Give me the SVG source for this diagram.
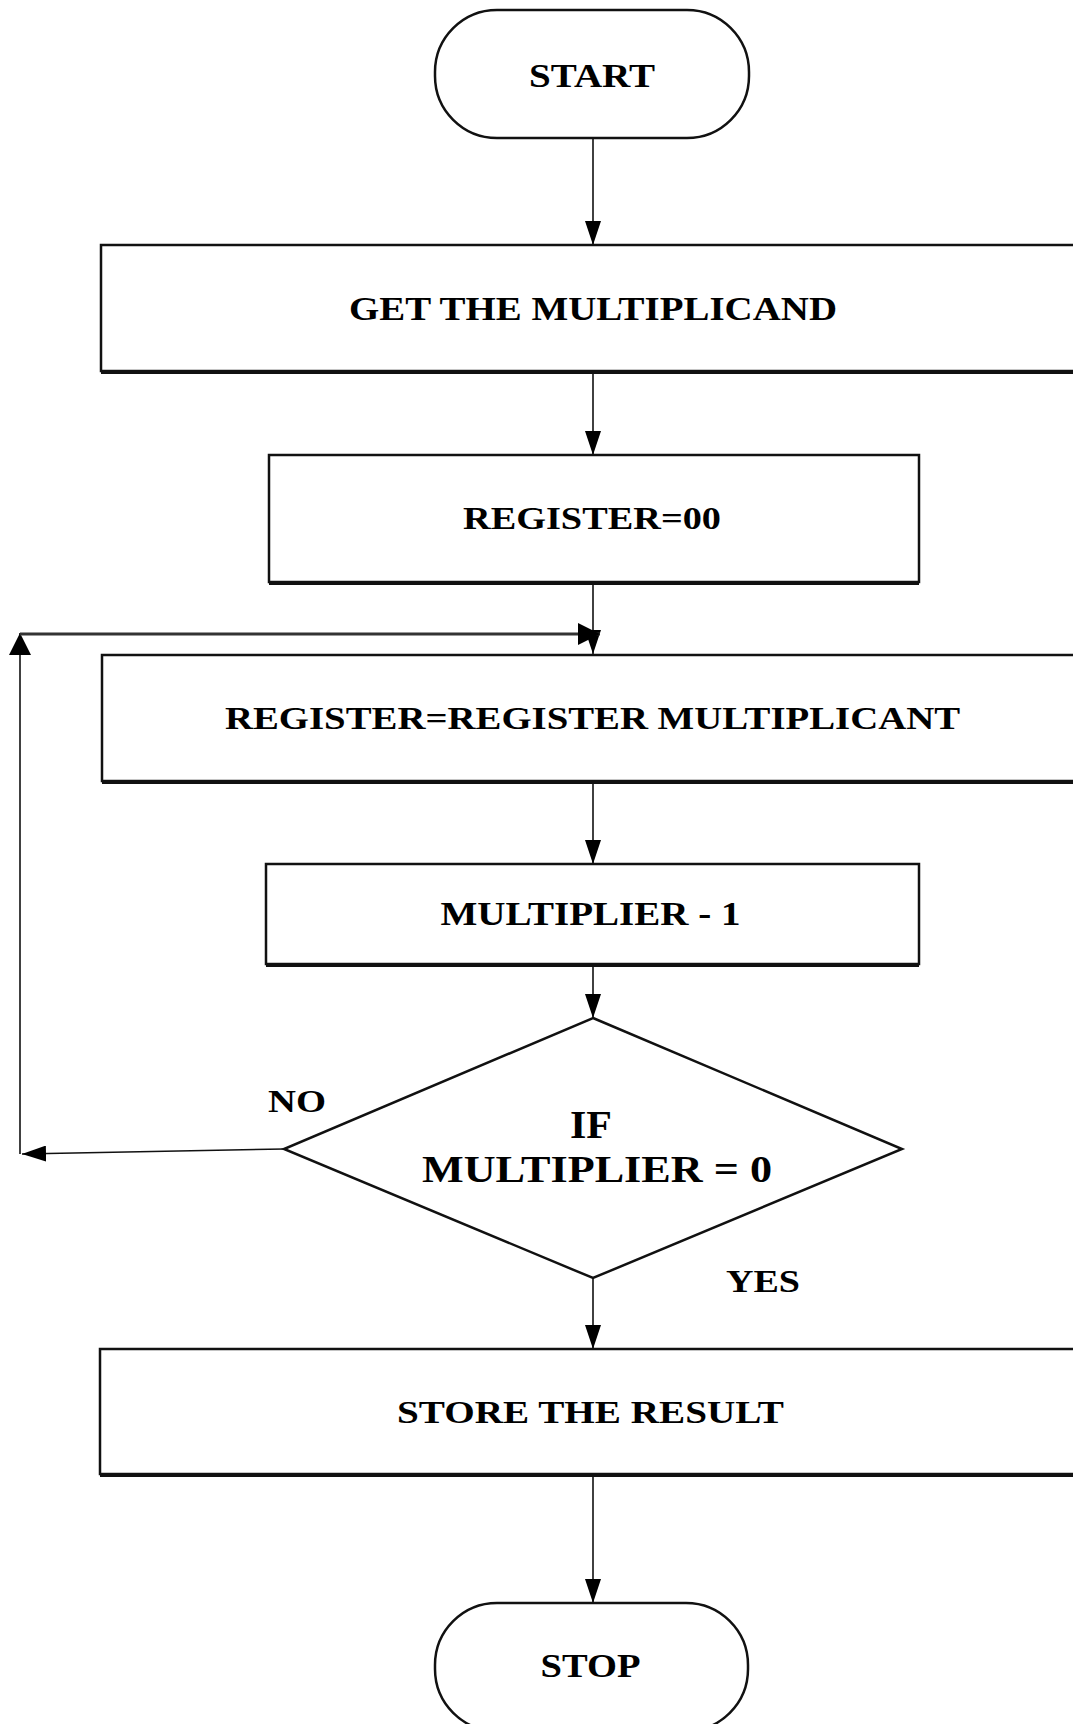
<svg xmlns="http://www.w3.org/2000/svg" width="1073" height="1724" viewBox="0 0 1073 1724">
  <defs>
    <marker id="arr" viewBox="0 0 24 16" refX="24" refY="8" markerWidth="24" markerHeight="16" markerUnits="userSpaceOnUse" orient="auto">
      <path d="M0,0 L24,8 L0,16 z" fill="#000"/>
    </marker>
    <marker id="arrL" viewBox="0 0 22 22" refX="22" refY="11" markerWidth="22" markerHeight="22" markerUnits="userSpaceOnUse" orient="auto">
      <path d="M0,0 L22,11 L0,22 z" fill="#000"/>
    </marker>
  </defs>
  <style>
    .shape { fill: #fff; stroke: #111; stroke-width: 2.5; }
    .shadow { stroke: #111; stroke-width: 4; fill: none; }
    .t { font-family: "Liberation Serif", "Times New Roman", serif; font-weight: bold; fill: #000; text-anchor: middle; }
    .c { stroke: #111; stroke-width: 1.6; fill: none; }
    .loop { stroke: #333; stroke-width: 3; fill: none; }
  </style>
  <rect width="1073" height="1724" fill="#fff"/>

  <g id="connectors">
    <line class="c" x1="593" y1="138" x2="593" y2="245" marker-end="url(#arr)"/>
    <line class="c" x1="593" y1="374" x2="593" y2="455" marker-end="url(#arr)"/>
    <line class="c" x1="593" y1="585" x2="593" y2="654" marker-end="url(#arr)"/>
    <line class="c" x1="593" y1="784" x2="593" y2="864" marker-end="url(#arr)"/>
    <line class="c" x1="593" y1="967" x2="593" y2="1018" marker-end="url(#arr)"/>
    <line class="c" x1="593" y1="1278" x2="593" y2="1349" marker-end="url(#arr)"/>
    <line class="c" x1="593" y1="1477" x2="593" y2="1603" marker-end="url(#arr)"/>
    <line class="c" x1="284" y1="1149" x2="22" y2="1154" marker-end="url(#arr)" stroke-width="2.2"/>
    <line class="c" x1="20" y1="1154" x2="20" y2="633" marker-end="url(#arrL)" stroke-width="2.5"/>
    <line class="loop" x1="20" y1="634" x2="600" y2="634" marker-end="url(#arrL)"/>
  </g>

  <g id="start">
    <rect class="shape" x="435" y="10" width="314" height="128" rx="62" ry="62"/>
    <text class="t" x="592" y="87" font-size="34" textLength="126" lengthAdjust="spacingAndGlyphs">START</text>
  </g>

  <g id="get-multiplicand">
    <rect class="shape" x="101" y="245" width="1000" height="126"/>
    <line class="shadow" x1="101" y1="372" x2="1101" y2="372"/>
    <text class="t" x="593" y="320" font-size="33" textLength="488" lengthAdjust="spacingAndGlyphs">GET THE MULTIPLICAND</text>
  </g>

  <g id="register-zero">
    <rect class="shape" x="269" y="455" width="650" height="127"/>
    <line class="shadow" x1="269" y1="583" x2="919" y2="583"/>
    <text class="t" x="592" y="529" font-size="32" textLength="258" lengthAdjust="spacingAndGlyphs">REGISTER=00</text>
  </g>

  <g id="register-add">
    <rect class="shape" x="102" y="655" width="1000" height="126"/>
    <line class="shadow" x1="102" y1="782" x2="1102" y2="782"/>
    <text class="t" x="592.5" y="729" font-size="32" textLength="735" lengthAdjust="spacingAndGlyphs">REGISTER=REGISTER MULTIPLICANT</text>
  </g>

  <g id="multiplier-dec">
    <rect class="shape" x="266" y="864" width="653" height="100"/>
    <line class="shadow" x1="266" y1="965" x2="919" y2="965"/>
    <text class="t" x="590.5" y="925" font-size="33" textLength="300" lengthAdjust="spacingAndGlyphs">MULTIPLIER - 1</text>
  </g>

  <g id="decision">
    <polygon class="shape" points="593,1018 902,1149 593,1278 284,1149"/>
    <text class="t" x="591" y="1138" font-size="40" textLength="42" lengthAdjust="spacingAndGlyphs">IF</text>
    <text class="t" x="597" y="1182" font-size="37" textLength="350" lengthAdjust="spacingAndGlyphs">MULTIPLIER = 0</text>
    <text class="t" x="297" y="1112" font-size="31" textLength="58" lengthAdjust="spacingAndGlyphs">NO</text>
    <text class="t" x="763" y="1292" font-size="31" textLength="74" lengthAdjust="spacingAndGlyphs">YES</text>
  </g>

  <g id="store-result">
    <rect class="shape" x="100" y="1349" width="1000" height="125"/>
    <line class="shadow" x1="100" y1="1475" x2="1100" y2="1475"/>
    <text class="t" x="590.5" y="1423" font-size="32" textLength="387" lengthAdjust="spacingAndGlyphs">STORE THE RESULT</text>
  </g>

  <g id="stop">
    <rect class="shape" x="435" y="1603" width="313" height="128" rx="62" ry="62"/>
    <text class="t" x="590.5" y="1677" font-size="34" textLength="100" lengthAdjust="spacingAndGlyphs">STOP</text>
  </g>
</svg>
